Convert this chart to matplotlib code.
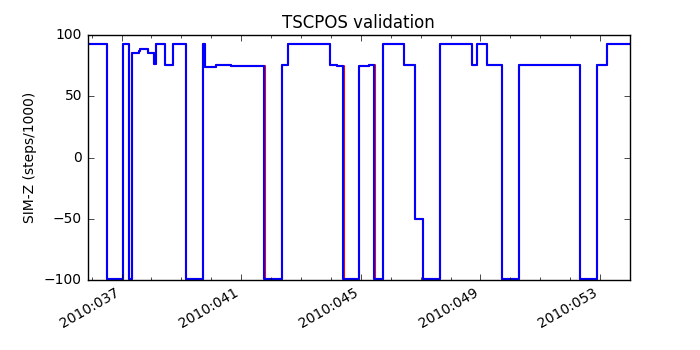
import matplotlib
matplotlib.use("Agg")
import matplotlib.pyplot as plt
from matplotlib.ticker import FixedLocator, MultipleLocator, FuncFormatter

plt.style.use("classic")
plt.rcParams["font.size"] = 10

# Day-of-year (2010) and SIM-Z (steps/1000)
tlm_days = [35.86, 36.512, 37.033, 37.258, 37.334, 37.57, 37.63, 37.870, 38.070, 38.150,
            38.462, 38.706, 39.154, 39.709, 39.799, 40.157, 40.659, 41.773, 42.365, 42.552,
            43.970, 44.204, 44.415, 44.950, 45.261, 45.452, 45.753, 46.455, 46.813, 47.067,
            47.649, 48.719, 48.873, 49.221, 49.709, 50.301, 52.331, 52.886, 53.234, 54.0]
tlm_simz = [92.9, -99.2, 92.9, -99.2, 85.6, 87.0, 88.8, 85.6, 76.0, 92.9,
            75.8, 92.9, -99.2, 92.9, 73.6, 75.9, 74.9, -99.2, 75.8, 92.9,
            75.8, 74.8, -99.2, 74.8, 75.8, -99.2, 92.9, 75.6, -50.5, -99.2,
            92.9, 75.6, 92.9, 75.6, -99.2, 75.6, -99.2, 75.6, 92.9, 92.9]

pred_days = [35.86, 36.522, 37.045, 37.262, 37.346, 37.572, 37.632, 37.872, 38.072, 38.152,
             38.464, 38.708, 39.156, 39.722, 39.801, 40.159, 40.661, 41.785, 42.378, 42.554,
             43.972, 44.206, 44.421, 44.952, 45.263, 45.462, 45.755, 46.457, 46.824, 47.075,
             47.651, 48.721, 48.875, 49.223, 49.716, 50.303, 52.336, 52.905, 53.236, 54.0]
pred_simz = tlm_simz

major_days = [37, 41, 45, 49, 53]

fig = plt.figure(figsize=(7, 3.5), dpi=100)
ax = fig.add_subplot(111)
ax.step(pred_days, pred_simz, where="post", color="r", lw=1.5)
ax.step(tlm_days, tlm_simz, where="post", color="b", lw=1.5)

ax.set_xlim(35.86, 54.0)
ax.set_ylim(-100, 100)
ax.xaxis.set_major_locator(FixedLocator(major_days))
ax.xaxis.set_minor_locator(MultipleLocator(1))
ax.xaxis.set_major_formatter(FuncFormatter(lambda x, pos: "2010:%03d" % int(round(x))))
ax.set_yticks([-100, -50, 0, 50, 100])

ax.set_title("TSCPOS validation")
ax.set_ylabel("SIM-Z (steps/1000)")
fig.autofmt_xdate()

fig.savefig("out.png", dpi=100)
